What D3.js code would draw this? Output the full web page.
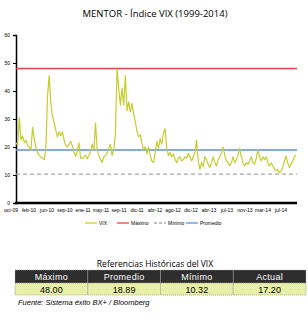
<!DOCTYPE html>
<html>
<head>
<meta charset="utf-8">
<script src="https://cdn.jsdelivr.net/npm/d3@7"></script>
<style>
  body { margin: 0; background: #fff; }
  svg { display: block; }
</style>
</head>
<body>
<svg id="chart" width="308" height="318"></svg>
<script>
const xLabels = ['oct-09', 'feb-10', 'jun-10', 'sep-10', 'ene-11', 'may-11', 'sep-11', 'dic-11',
  'abr-12', 'ago-12', 'dic-12', 'abr-13', 'jul-13', 'nov-13', 'mar-14', 'jul-14'];

const vix = [
  21.5, 20.7, 30.4, 22.5, 24, 21.5, 22.5, 20.5, 20, 18.9, 27, 23, 20, 18, 17, 16.5, 16, 15.5, 19,
  38, 45.5, 36, 31, 28.7, 26, 23.6, 25.5, 24, 25.5, 22.5, 20.6, 20, 21, 22, 20.5, 18, 16.7, 18.5,
  21.5, 16, 15.8, 16.5, 17, 15.8, 17, 18.5, 21, 19, 28.5, 19, 17, 15.5, 14.5, 16.5, 17, 17.8, 19.5,
  21, 17, 19, 24.6, 47.8, 41, 35, 41, 35, 45.5, 33, 36, 32.5, 35.5, 32, 29, 25.5, 23.7, 24.3, 21.5,
  19, 20, 17.6, 20, 17, 15, 14.5,
  18, 22, 19.5, 23, 21, 25, 26.5, 19.5, 17, 18, 16.5, 17.5, 15.5, 14.4, 16, 16.5, 15, 15.5, 16.5,
  16, 17.8, 16.5, 15, 16.5, 18, 22.5, 15, 12, 14.5, 13, 16.5, 15.5, 13.8, 12.7, 14.5, 16.5, 14.5,
  13.3, 15.5, 16.5, 18, 20, 17, 15, 14.4, 13.3, 14.4, 16.5, 14.4, 15.5, 17, 19.5, 16.5, 14.4, 13.3,
  14.4, 13.8, 15, 16.5, 14.4, 13.8, 16, 19, 16.5, 15, 16.5, 15.5, 16.5, 14.4, 13.3, 14.4, 13.3, 12,
  11.5, 12, 10.8, 11.5, 12.7, 15, 16.8, 14.4, 12.7, 13.8, 15, 16.5, 17.2
];

const refNames = ['Máximo', 'Promedio', 'Mínimo', 'Actual'];
const refValues = [48.00, 18.89, 10.32, 17.20];

const legendNames = ['VIX', 'Máximo', 'Mínimo', 'Promedio'];
const yTicks = [0, 10, 20, 30, 40, 50, 60];

const colVix = '#c5cd2a', colMax = '#e04646', colMin = '#a8a8a8', colAvg = '#5f8fe0';

const svg = d3.select('#chart');

svg.append('text')
  .attr('x', 155).attr('y', 17)
  .attr('text-anchor', 'middle')
  .style('font-family', 'Open Sans, sans-serif')
  .style('font-size', '9.5px')
  .text('MENTOR -  Índice VIX (1999-2014)');

const x = d3.scaleLinear().domain([0, vix.length - 1]).range([16, 296]);
const y = d3.scaleLinear().domain([0, 60]).range([203, 35]);
const xl = d3.scalePoint().domain(xLabels).range([11, 281]);

// y axis
const yAxis = svg.append('g')
  .attr('transform', 'translate(16,0)')
  .call(d3.axisLeft(y).tickValues(yTicks).tickSize(3).tickFormat(d3.format('d')));
yAxis.select('.domain').attr('stroke', '#000').attr('stroke-width', 1.5);
yAxis.selectAll('.tick line').attr('stroke', '#000');
yAxis.selectAll('.tick text')
  .attr('x', -6)
  .style('font-family', 'Liberation Sans, Arial, sans-serif')
  .style('font-size', '5px');

// reference lines
svg.append('line')
  .attr('x1', 16).attr('x2', 297)
  .attr('y1', y(refValues[0])).attr('y2', y(refValues[0]))
  .attr('stroke', colMax).attr('stroke-width', 1.5);
svg.append('line')
  .attr('x1', 16).attr('x2', 297)
  .attr('y1', y(refValues[1])).attr('y2', y(refValues[1]))
  .attr('stroke', colAvg).attr('stroke-width', 1.5);
svg.append('line')
  .attr('x1', 16).attr('x2', 297)
  .attr('y1', y(refValues[2])).attr('y2', y(refValues[2]))
  .attr('stroke', colMin).attr('stroke-width', 1.2)
  .attr('stroke-dasharray', '4,3');

// VIX series
svg.append('path')
  .datum(vix)
  .attr('fill', 'none')
  .attr('stroke', colVix)
  .attr('stroke-width', 1.2)
  .attr('stroke-linejoin', 'round')
  .attr('d', d3.line().x((d, i) => x(i)).y(d => y(d)));

// x axis
svg.append('line')
  .attr('x1', 15).attr('x2', 297)
  .attr('y1', 203).attr('y2', 203)
  .attr('stroke', '#000').attr('stroke-width', 2.5);

svg.append('g')
  .selectAll('text')
  .data(xLabels)
  .enter()
  .append('text')
  .attr('x', d => xl(d))
  .attr('y', 212)
  .attr('text-anchor', 'middle')
  .style('font-family', 'Liberation Sans Narrow, Liberation Sans, Arial, sans-serif')
  .style('font-size', '5px')
  .text(d => d);

// legend
const legendX = [85, 117, 154, 186];
const legendCol = [colVix, colMax, colMin, colAvg];
const leg = svg.append('g')
  .selectAll('g')
  .data(legendNames)
  .enter()
  .append('g')
  .attr('transform', (d, i) => `translate(${legendX[i]},223)`);
leg.append('line')
  .attr('x1', 0).attr('x2', 12)
  .attr('stroke', (d, i) => legendCol[i])
  .attr('stroke-width', 1.3)
  .attr('stroke-dasharray', (d, i) => i === 2 ? '3,2' : null);
leg.append('text')
  .attr('x', 14).attr('y', 2)
  .style('font-family', 'Liberation Sans, Arial, sans-serif')
  .style('font-size', '5px')
  .text(d => d);

// table of references
svg.append('text')
  .attr('x', 155).attr('y', 267)
  .attr('text-anchor', 'middle')
  .style('font-family', 'Open Sans, sans-serif')
  .style('font-size', '8.5px')
  .text('Referencias Históricas del VIX');

const col = d3.scaleBand().domain(refNames).range([15, 306]);

const head = svg.append('g');
head.selectAll('rect')
  .data(refNames)
  .enter()
  .append('rect')
  .attr('x', d => col(d)).attr('y', 270)
  .attr('width', col.bandwidth()).attr('height', 13)
  .attr('fill', '#2e2e2e')
  .attr('stroke', '#bbb').attr('stroke-width', 0.6)
  .attr('stroke-dasharray', '1,1');
head.selectAll('text')
  .data(refNames)
  .enter()
  .append('text')
  .attr('x', d => col(d) + col.bandwidth() / 2).attr('y', 280)
  .attr('text-anchor', 'middle')
  .attr('fill', '#fff')
  .style('font-family', 'Liberation Sans, Arial, sans-serif')
  .style('font-size', '9px')
  .style('letter-spacing', '0.3px')
  .text(d => d);

const row = svg.append('g');
row.selectAll('rect')
  .data(refValues)
  .enter()
  .append('rect')
  .attr('x', (d, i) => col(refNames[i])).attr('y', 283)
  .attr('width', col.bandwidth()).attr('height', 12)
  .attr('fill', '#e8efa8')
  .attr('stroke', '#777').attr('stroke-width', 0.6)
  .attr('stroke-dasharray', '1,1');
row.selectAll('text')
  .data(refValues)
  .enter()
  .append('text')
  .attr('x', (d, i) => col(refNames[i]) + col.bandwidth() / 2).attr('y', 292.5)
  .attr('text-anchor', 'middle')
  .style('font-family', 'Liberation Sans, Arial, sans-serif')
  .style('font-size', '9px')
  .text(d => d3.format('.2f')(d));

svg.append('text')
  .attr('x', 18).attr('y', 305)
  .style('font-family', 'Liberation Sans, Arial, sans-serif')
  .style('font-size', '7.5px')
  .style('font-style', 'italic')
  .text('Fuente: Sistema éxito BX+ / Bloomberg');
</script>
</body>
</html>
